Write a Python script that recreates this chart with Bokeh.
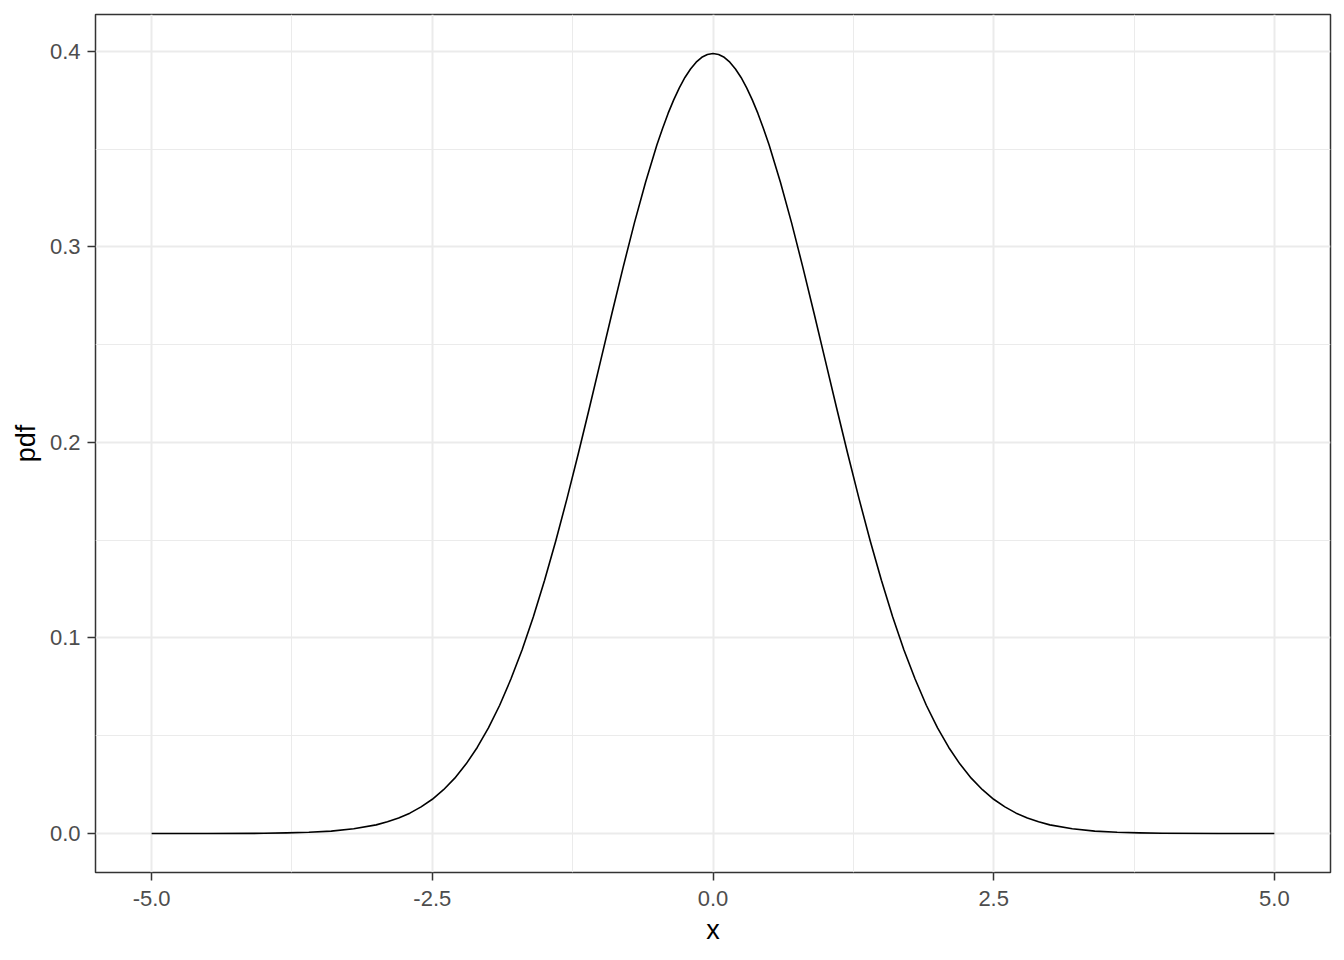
from bokeh.plotting import figure
from bokeh.models import FixedTicker, Range1d, NumeralTickFormatter
from bokeh.embed import file_html
from bokeh.resources import INLINE

# Values
x_vals = [-5.0, -4.5, -4.0, -3.8, -3.6, -3.4, -3.2, -3.0, -2.9, -2.8, -2.7, -2.6, -2.5,
          -2.4, -2.3, -2.2, -2.1, -2.0, -1.9, -1.8, -1.7, -1.6, -1.5, -1.4, -1.3, -1.2,
          -1.1, -1.0, -0.9, -0.8, -0.7, -0.6, -0.5, -0.45, -0.4, -0.35, -0.3, -0.25, -0.2,
          -0.15, -0.1, -0.05,
          0.0,
          0.05, 0.1, 0.15, 0.2, 0.25, 0.3, 0.35, 0.4, 0.45, 0.5, 0.6, 0.7, 0.8, 0.9, 1.0,
          1.1, 1.2, 1.3, 1.4, 1.5,
          1.6, 1.7, 1.8, 1.9, 2.0, 2.1, 2.2, 2.3, 2.4, 2.5, 2.6, 2.7, 2.8, 2.9, 3.0,
          3.2, 3.4, 3.6, 3.8, 4.0, 4.5, 5.0]
pdf_vals = [0.0000, 0.0000, 0.0001, 0.0003, 0.0006, 0.0012, 0.0024, 0.0044, 0.0060, 0.0079,
            0.0104, 0.0136, 0.0175, 0.0224, 0.0283, 0.0355, 0.0440, 0.0540, 0.0656, 0.0790,
            0.0940, 0.1109, 0.1295, 0.1497, 0.1714, 0.1942, 0.2179, 0.2420, 0.2661, 0.2897,
            0.3123, 0.3332, 0.3521, 0.3605, 0.3683, 0.3752, 0.3814, 0.3867, 0.3910,
            0.3945, 0.3970, 0.3984,
            0.3989,
            0.3984, 0.3970, 0.3945, 0.3910, 0.3867, 0.3814, 0.3752, 0.3683, 0.3605, 0.3521,
            0.3332, 0.3123, 0.2897, 0.2661, 0.2420,
            0.2179, 0.1942, 0.1714, 0.1497, 0.1295, 0.1109, 0.0940, 0.0790, 0.0656, 0.0540,
            0.0440, 0.0355, 0.0283, 0.0224, 0.0175, 0.0136, 0.0104, 0.0079, 0.0060, 0.0044,
            0.0024, 0.0012, 0.0006, 0.0003, 0.0001, 0.0000, 0.0000]

x_ticks = [-5.0, -2.5, 0.0, 2.5, 5.0]
x_minor = [-3.75, -1.25, 1.25, 3.75]
y_ticks = [0.0, 0.1, 0.2, 0.3, 0.4]
y_minor = [0.05, 0.15, 0.25, 0.35]

FONT = "Liberation Sans"

p = figure(width=1336, height=952, output_backend="svg", toolbar_location=None,
           x_range=Range1d(-5.5, 5.5), y_range=Range1d(-0.01995, 0.41889),
           min_border_left=95, min_border_right=6, min_border_top=14, min_border_bottom=80,
           background_fill_color="white", border_fill_color="white")

p.line(x_vals, pdf_vals, line_color="black", line_width=1.6, line_join="round")

p.xaxis.ticker = FixedTicker(ticks=x_ticks, minor_ticks=x_minor)
p.yaxis.ticker = FixedTicker(ticks=y_ticks, minor_ticks=y_minor)
p.xaxis.formatter = NumeralTickFormatter(format="0.0")
p.yaxis.formatter = NumeralTickFormatter(format="0.0")

p.xaxis.axis_label = "x"
p.yaxis.axis_label = "pdf"

for ax in (p.xaxis, p.yaxis):
    ax.axis_line_color = None
    ax.major_tick_line_color = "#333333"
    ax.major_tick_line_width = 1.5
    ax.major_tick_out = 8
    ax.major_tick_in = 0
    ax.minor_tick_line_color = None
    ax.major_label_text_font = FONT
    ax.major_label_text_font_size = "22px"
    ax.major_label_text_color = "#4D4D4D"
    ax.axis_label_text_font = FONT
    ax.axis_label_text_font_size = "27px"
    ax.axis_label_text_font_style = "normal"
    ax.axis_label_text_color = "black"

p.xaxis.major_label_standoff = 10
p.yaxis.major_label_standoff = 7
p.xaxis.axis_label_standoff = 6
p.yaxis.axis_label_standoff = 6

for g in (p.xgrid, p.ygrid):
    g.grid_line_color = "#EBEBEB"
    g.grid_line_width = 2
    g.minor_grid_line_color = "#EBEBEB"
    g.minor_grid_line_width = 1

p.outline_line_color = "#333333"
p.outline_line_width = 1.5

open("out.html", "w").write(file_html(p, INLINE))
